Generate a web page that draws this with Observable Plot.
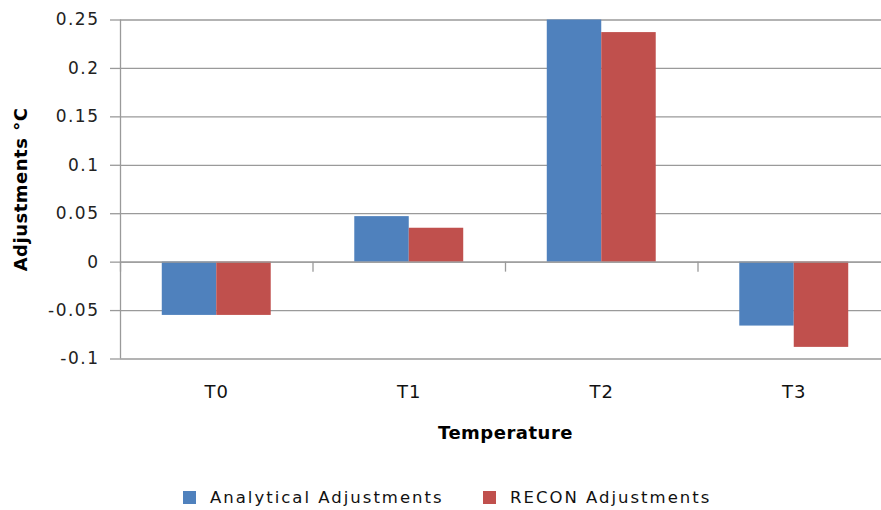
<!DOCTYPE html>
<html><head><meta charset="utf-8">
<script src="https://cdn.jsdelivr.net/npm/d3@7"></script>
<script src="https://cdn.jsdelivr.net/npm/@observablehq/plot@0.6"></script>
<style>
html,body{margin:0;padding:0;background:#fff;overflow:hidden;width:881px;height:510px}
#chart svg{display:block;max-width:none !important}
#legend{position:relative;height:40px;font-family:"DejaVu Sans",sans-serif;font-size:16.5px;color:#111;letter-spacing:2px}
#legend .item{position:absolute;top:21px;display:flex;align-items:center;white-space:nowrap;height:13px}
#legend .sw{width:13px;height:13px;margin-right:14px;flex:none}
</style></head><body><div id="chart"></div><div id="legend"></div>
<script>
const categories = ["T0", "T1", "T2", "T3"];
const seriesNames = ["Analytical Adjustments", "RECON Adjustments"];
const analytical = [-0.055, 0.047, 0.25, -0.066];
const recon = [-0.055, 0.035, 0.237, -0.088];
const yTicks = [-0.1, -0.05, 0, 0.05, 0.1, 0.15, 0.2, 0.25];
const yTickLabels = ["-0.1", "-0.05", "0", "0.05", "0.1", "0.15", "0.2", "0.25"];
const colors = ["#4F81BD", "#C0504D"];

const barFrac = 0.283; // fraction of a category slot per bar
const rows = [];
[analytical, recon].forEach((vals, s) => {
  vals.forEach((v, i) => {
    rows.push({cat: categories[i], series: seriesNames[s],
      x1: i - barFrac + s * barFrac, x2: i + s * barFrac, value: v});
  });
});
const catIdx = categories.map((c, i) => i);
const bounds = [-0.5, ...catIdx.map(i => i + 0.5)];

const grid = "#9a9a9a";
const plot = Plot.plot({
  width: 890,
  height: 470,
  marginLeft: 120,
  marginRight: 0,
  marginTop: 19.5,
  marginBottom: 111.5,
  style: {fontFamily: "'DejaVu Sans', sans-serif", fontSize: "17px", color: "#222", background: "#fff", overflow: "visible"},
  x: {type: "linear", domain: [-0.5, categories.length - 0.5]},
  y: {domain: [-0.1, 0.25]},
  color: {domain: seriesNames, range: colors},
  marks: [
    Plot.gridY(yTicks, {stroke: grid, strokeOpacity: 1, strokeWidth: 1.3}),
    Plot.rectY(rows, {x1: "x1", x2: "x2", y1: 0, y2: "value", fill: "series"}),
    Plot.ruleY([0], {stroke: grid, strokeWidth: 1.3}),
    Plot.ruleX([-0.5], {stroke: grid, strokeWidth: 1.3}),
    Plot.ruleX(bounds, {y1: 0, y2: 0, insetBottom: -10, stroke: grid, strokeWidth: 1.3}),
    Plot.axisY(yTicks, {tickSize: 10, tickPadding: 11, stroke: grid, strokeWidth: 1.3,
      tickFormat: d => yTickLabels[yTicks.indexOf(d)], fill: "#222",
      fontFamily: "'DejaVu Sans', sans-serif", fontSize: 17,
      label: "Adjustments °C", labelAnchor: "center", labelArrow: "none", labelOffset: 106}),
    Plot.axisX(catIdx, {tickSize: 0, tickPadding: 26, tickFormat: i => categories[i],
      fontFamily: "'DejaVu Sans', sans-serif", fontSize: 18, fill: "#111",
      label: "Temperature", labelAnchor: "center", labelArrow: "none", labelOffset: 80})
  ]
});
// tick label spacing
plot.querySelectorAll("g[aria-label='y-axis tick label'] text").forEach(t => { t.style.letterSpacing = "1.5px"; });
plot.querySelectorAll("g[aria-label='x-axis tick label'] text").forEach(t => { t.style.letterSpacing = "1px"; });
// bold axis labels
plot.querySelectorAll("g[aria-label='y-axis label'] text, g[aria-label='x-axis label'] text").forEach(t => {
  t.style.fontWeight = "bold";
  t.style.fontFamily = "'DejaVu Sans', sans-serif";
  t.style.fontSize = "18px";
  t.style.letterSpacing = "0.5px";
  t.style.fill = "#000";
});
document.getElementById("chart").appendChild(plot);

const legend = document.getElementById("legend");
const lefts = [183, 483];
seriesNames.forEach((name, s) => {
  const it = document.createElement("div");
  it.className = "item";
  it.style.left = lefts[s] + "px";
  const sw = document.createElement("span");
  sw.className = "sw";
  sw.style.background = colors[s];
  const tx = document.createElement("span");
  tx.textContent = name;
  it.appendChild(sw); it.appendChild(tx);
  legend.appendChild(it);
});
</script></body></html>
